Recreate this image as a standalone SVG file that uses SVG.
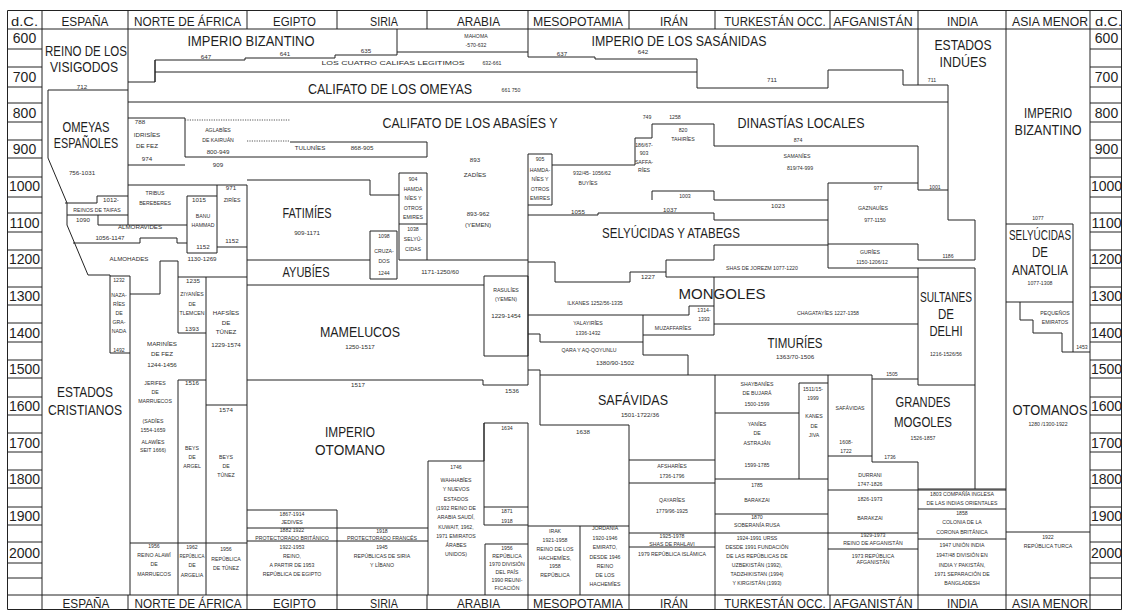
<svg xmlns="http://www.w3.org/2000/svg" width="1126" height="611" viewBox="0 0 1126 611">
<style>
text{font-family:"Liberation Sans",Arial,sans-serif;text-anchor:middle;fill:#1e1e1e}
.h{font-size:13.5px}
.y{font-size:14px}
.b{font-size:14px}
.s{font-size:6.2px;fill:#2e2e2e}
.t{font-size:5.2px;fill:#2e2e2e}
.ln{fill:none;stroke:#222;stroke-width:1}
.dt{fill:none;stroke:#444;stroke-width:0.9;stroke-dasharray:1.2 1.2}
</style>
<rect width="1126" height="611" fill="#fff"/>
<g id="connectors">
<path class="ln" d="M7.5 10.5H1121.5V609.5H7.5Z"/>
<path class="ln" d="M7 29H1122M7 595H1122"/>
<path class="ln" d="M42 10V29M128 10V29M247 10V29M337 10V29M427 10V29M528 10V29M629 10V29M715 10V29M830 10V29M918 10V29M1006 10V29M1090 10V29"/>
<path class="ln" d="M42 595V610M128 595V610M247 595V610M337 595V610M427 595V610M528 595V610M629 595V610M715 595V610M830 595V610M918 595V610M1006 595V610M1090 595V610"/>
<path class="ln" d="M42 29V595M1090 29V595M1006 29V595"/>
<path class="ln" d="M7 49H42M7 67H42M7 87H42M7 103H42M7 122H42M7 140H42M7 158H42M7 177H42M7 197H42M7 213H42M7 232H42M7 250H42M7 268H42M7 287H42M7 305H42M7 323H42M7 342H42M7 360H42M7 378H42M7 397H42M7 415H42M7 433H42M7 452H42M7 470H42M7 488H42M7 507H42M7 525H42M7 542H42M7 563H42M7 578H42"/>
<path class="ln" d="M1090 49H1122M1090 67H1122M1090 87H1122M1090 103H1122M1090 122H1122M1090 140H1122M1090 158H1122M1090 177H1122M1090 197H1122M1090 213H1122M1090 232H1122M1090 250H1122M1090 268H1122M1090 287H1122M1090 305H1122M1090 323H1122M1090 342H1122M1090 360H1122M1090 378H1122M1090 397H1122M1090 415H1122M1090 433H1122M1090 452H1122M1090 470H1122M1090 488H1122M1090 507H1122M1090 525H1122M1090 542H1122M1090 563H1122M1090 578H1122"/>
<path class="ln" d="M128 29V225M48 90H128M48 90V158L67 203V225L88 275H110V353H130M130 276V595M110 276H130"/>
<path class="ln" d="M65 203H97V196H128M67 215H128M98 215V225M98 225H187M73 243H140V238H177V243H187"/>
<path class="ln" d="M128 185H247M187 196H217M187 196V253H217M217 185V253M217 247H247"/>
<path class="ln" d="M130 294H160V261H178V277H247M178 277V333H206M206 277V595M178 380H206M178 380V595M206 405H247M130 543H247M247 185V595"/>
<path class="ln" d="M128 118H185V157M185 165H128M185 157H427V142H290"/>
<path class="dt" d="M185 120H290M247 141H290"/>
<path class="ln" d="M128 82H155V60H245V58H335V55H397M397 55V29M397 52H528M528 29V57M155 60V82M155 72H697"/>
<path class="ln" d="M128 102H948"/>
<path class="ln" d="M247 180H370V195H399M399 173H427V260H399ZM399 224H427M370 231H397V279H370Z"/>
<path class="ln" d="M247 260H370M427 260H528M247 285H484M484 276H528V356H484ZM247 380H483V385H528M528 154V385"/>
<path class="ln" d="M528 370H540V425H629M528 334H540V342H643"/>
<path class="ln" d="M528 57H595V59H697V88H828V70H903V85H948V190M918 29V85"/>
<path class="ln" d="M528 154H552V205H528M552 165H635V138H652V124H714V146H918V190H948"/>
<path class="ln" d="M652 200V191H714V200M714 200H828M828 183H918M828 183V268"/>
<path class="ln" d="M528 215H598V213H714V220H828"/>
<path class="ln" d="M948 190V220H975V260H918V244H828M828 268H975M975 268V489M918 268V385H975"/>
<path class="ln" d="M714 245V260H666V277H918M714 245H828"/>
<path class="ln" d="M528 262H555V282H630V272H666"/>
<path class="ln" d="M528 315H689V306H714M714 324H918M714 277V335M643 315V355H688V375M643 335H714"/>
<path class="ln" d="M540 375H872V379H918M872 379V462H918V489H1006"/>
<path class="ln" d="M828 375V595M828 456H872M828 490H1006M629 533H918M918 539H1006M918 509H1006M828 549H918M918 489V595"/>
<path class="ln" d="M715 375V595M715 413H799M799 383H828M799 383V479M715 479H828M715 514H828"/>
<path class="ln" d="M629 425V595M629 460H715M629 483H715M629 547H715"/>
<path class="ln" d="M528 526H629M528 423V595M580 526V595"/>
<path class="ln" d="M428 461V595M428 461H484V423H528M484 423V525M484 507H528M484 525H528M485 544H528M485 544V595"/>
<path class="ln" d="M247 510H337V595M247 528H428M247 541H428"/>
<path class="ln" d="M1006 224H1073V352M1006 302H1073M1020 302V320H1033V333H1062V352H1090M1006 532H1090"/>
</g>

<g id="header">
<text class="h" x="24.5" y="25.5" textLength="27" lengthAdjust="spacingAndGlyphs">d.C.</text>
<text class="h" x="85" y="25.5" textLength="47" lengthAdjust="spacingAndGlyphs">ESPAÑA</text>
<text class="h" x="187.5" y="25.5" textLength="107" lengthAdjust="spacingAndGlyphs">NORTE DE ÁFRICA</text>
<text class="h" x="294.5" y="25.5" textLength="43" lengthAdjust="spacingAndGlyphs">EGIPTO</text>
<text class="h" x="384" y="25.5" textLength="28" lengthAdjust="spacingAndGlyphs">SIRIA</text>
<text class="h" x="478.5" y="25.5" textLength="43" lengthAdjust="spacingAndGlyphs">ARABIA</text>
<text class="h" x="578" y="25.5" textLength="90" lengthAdjust="spacingAndGlyphs">MESOPOTAMIA</text>
<text class="h" x="674" y="25.5" textLength="28" lengthAdjust="spacingAndGlyphs">IRÁN</text>
<text class="h" transform="translate(775 25.5) scale(0.85 1)" x="0" y="0">TURKESTÁN OCC.</text>
<text class="h" transform="translate(873 25.5) scale(0.92 1)" x="0" y="0">AFGANISTÁN</text>
<text class="h" x="962.5" y="25.5" textLength="31" lengthAdjust="spacingAndGlyphs">INDIA</text>
<text class="h" x="1050" y="25.5" textLength="76" lengthAdjust="spacingAndGlyphs">ASIA MENOR</text>
<text class="h" x="1108.5" y="25.5" textLength="27" lengthAdjust="spacingAndGlyphs">d.C.</text>
</g>
<g id="footer">
<text class="h" x="86" y="607.5" textLength="47" lengthAdjust="spacingAndGlyphs">ESPAÑA</text>
<text class="h" x="188" y="607.5" textLength="107" lengthAdjust="spacingAndGlyphs">NORTE DE ÁFRICA</text>
<text class="h" x="294.5" y="607.5" textLength="43" lengthAdjust="spacingAndGlyphs">EGIPTO</text>
<text class="h" x="384" y="607.5" textLength="28" lengthAdjust="spacingAndGlyphs">SIRIA</text>
<text class="h" x="478.5" y="607.5" textLength="43" lengthAdjust="spacingAndGlyphs">ARABIA</text>
<text class="h" x="578" y="607.5" textLength="90" lengthAdjust="spacingAndGlyphs">MESOPOTAMIA</text>
<text class="h" x="674" y="607.5" textLength="28" lengthAdjust="spacingAndGlyphs">IRÁN</text>
<text class="h" transform="translate(775 607.5) scale(0.85 1)" x="0" y="0">TURKESTÁN OCC.</text>
<text class="h" transform="translate(873 607.5) scale(0.92 1)" x="0" y="0">AFGANISTÁN</text>
<text class="h" x="962.5" y="607.5" textLength="31" lengthAdjust="spacingAndGlyphs">INDIA</text>
<text class="h" x="1050" y="607.5" textLength="76" lengthAdjust="spacingAndGlyphs">ASIA MENOR</text>
</g>
<g id="years-left">
<text class="y" x="24.5" y="43">600</text><text class="y" x="24.5" y="82">700</text><text class="y" x="24.5" y="118">800</text><text class="y" x="24.5" y="154">900</text><text class="y" x="24.5" y="191">1000</text><text class="y" x="24.5" y="228">1100</text><text class="y" x="24.5" y="264">1200</text><text class="y" x="24.5" y="301">1300</text><text class="y" x="24.5" y="338">1400</text><text class="y" x="24.5" y="374">1500</text><text class="y" x="24.5" y="411">1600</text><text class="y" x="24.5" y="448">1700</text><text class="y" x="24.5" y="484">1800</text><text class="y" x="24.5" y="521">1900</text><text class="y" x="24.5" y="558">2000</text>
</g>
<g id="years-right">
<text class="y" x="1106.5" y="43">600</text><text class="y" x="1106.5" y="82">700</text><text class="y" x="1106.5" y="118">800</text><text class="y" x="1106.5" y="154">900</text><text class="y" x="1106.5" y="191">1000</text><text class="y" x="1106.5" y="228">1100</text><text class="y" x="1106.5" y="264">1200</text><text class="y" x="1106.5" y="301">1300</text><text class="y" x="1106.5" y="338">1400</text><text class="y" x="1106.5" y="374">1500</text><text class="y" x="1106.5" y="411">1600</text><text class="y" x="1106.5" y="448">1700</text><text class="y" x="1106.5" y="484">1800</text><text class="y" x="1106.5" y="521">1900</text><text class="y" x="1106.5" y="558">2000</text>
</g>

<g id="espana">
<text class="b" x="86" y="56" textLength="82" lengthAdjust="spacingAndGlyphs">REINO DE LOS</text>
<text class="b" x="84" y="72" textLength="68" lengthAdjust="spacingAndGlyphs">VISIGODOS</text>
<text class="s" x="82" y="88.5">712</text>
<text class="b" transform="translate(86 132) scale(0.8 1)" x="0" y="0">OMEYAS</text>
<text class="b" transform="translate(86 148) scale(0.77 1)" x="0" y="0">ESPAÑOLES</text>
<text class="s" x="82" y="175">756-1031</text>
<text class="s" x="111" y="202">1012-</text>
<text class="t" x="97" y="212">REINOS DE TAIFAS</text>
<text class="s" x="83" y="222">1090</text>
<text class="s" x="140" y="229">ALMORAVIDES</text>
<text class="s" x="110" y="240">1056-1147</text>
<text class="s" x="129" y="261">ALMOHADES</text>
<text class="s" x="202" y="261">1130-1269</text>
<text class="t" x="119" y="282">1232</text><text class="t" x="119" y="297">NAZA-</text><text class="t" x="119" y="306">RÍES</text><text class="t" x="119" y="315">DE</text><text class="t" x="119" y="324">GRA-</text><text class="t" x="119" y="333">NADA</text><text class="t" x="119" y="352">1492</text>
<text class="b" x="85" y="397" textLength="56" lengthAdjust="spacingAndGlyphs">ESTADOS</text>
<text class="b" x="85" y="415" textLength="74" lengthAdjust="spacingAndGlyphs">CRISTIANOS</text>
</g>
<g id="norte-africa">
<text class="s" x="140" y="124">788</text><text class="s" x="147" y="137">IDRISÍES</text><text class="s" x="147" y="148">DE FEZ</text><text class="s" x="147" y="161">974</text>
<text class="t" x="218" y="132">AGLABÍES</text><text class="t" x="218" y="142">DE KAIRUÁN</text><text class="s" x="218" y="154">800-949</text><text class="s" x="218" y="167">909</text>
<text class="t" x="155" y="195">TRIBUS</text><text class="t" x="155" y="205">BEREBERES</text>
<text class="s" x="199" y="202">1015</text><text class="t" x="203" y="218">BANU</text><text class="t" x="203" y="227">HAMMAD</text><text class="s" x="203" y="249">1152</text>
<text class="s" x="231" y="190">971</text><text class="t" x="232" y="202">ZIRÍES</text><text class="s" x="232" y="243">1152</text>
<text class="s" x="193" y="283">1235</text><text class="t" x="192" y="296">ZIYANÍES</text><text class="t" x="192" y="306">DE</text><text class="t" x="192" y="315">TLEMCEN</text><text class="s" x="192" y="331">1393</text>
<text class="s" x="226" y="315">HAFSÍES</text><text class="s" x="226" y="325">DE</text><text class="s" x="226" y="334">TÚNEZ</text><text class="s" x="226" y="347">1229-1574</text>
<text class="s" x="162" y="346">MARINÍES</text><text class="s" x="162" y="356">DE FEZ</text><text class="s" x="162" y="367">1244-1456</text>
<text class="t" x="155" y="385">JERIFES</text><text class="t" x="155" y="394">DE</text><text class="t" x="155" y="403">MARRUECOS</text>
<text class="t" x="153" y="423">(SADÍES</text><text class="t" x="153" y="432">1554-1659</text><text class="t" x="153" y="444">ALAWÍES</text><text class="t" x="153" y="452">SEIT 1666)</text>
<text class="s" x="192" y="385">1516</text><text class="t" x="192" y="450">BEYS</text><text class="t" x="192" y="459">DE</text><text class="t" x="192" y="468">ARGEL</text>
<text class="s" x="226" y="412">1574</text><text class="t" x="226" y="459">BEYS</text><text class="t" x="226" y="468">DE</text><text class="t" x="226" y="477">TÚNEZ</text>
<text class="t" x="154" y="548">1956</text><text class="t" x="154" y="557">REINO ALAWÍ</text><text class="t" x="154" y="566">DE</text><text class="t" x="154" y="576">MARRUECOS</text>
<text class="t" x="192" y="549">1962</text><text class="t" transform="translate(192 558) scale(0.85 1)" x="0" y="0">REPÚBLICA</text><text class="t" x="192" y="567">DE</text><text class="t" x="192" y="577">ARGELIA</text>
<text class="t" x="226" y="551">1956</text><text class="t" x="226" y="561">REPÚBLICA</text><text class="t" x="226" y="570">DE TÚNEZ</text>
</g>
<g id="califatos">
<text class="b" x="251" y="46" textLength="127" lengthAdjust="spacingAndGlyphs">IMPERIO BIZANTINO</text>
<text class="s" x="206" y="59">647</text><text class="s" x="285" y="56">641</text><text class="s" x="366" y="53">635</text>
<text class="t" x="476" y="38">MAHOMA</text><text class="t" x="476" y="47">-570-632</text>
<text class="t" x="393" y="65" textLength="143" lengthAdjust="spacingAndGlyphs">LOS CUATRO CALIFAS LEGITIMOS</text><text class="t" x="492" y="65">632-661</text>
<text class="b" x="390" y="94" textLength="164" lengthAdjust="spacingAndGlyphs">CALIFATO DE LOS OMEYAS</text><text class="t" x="511" y="92">661 750</text>
<text class="b" x="470" y="128" textLength="175" lengthAdjust="spacingAndGlyphs">CALIFATO DE LOS ABASÍES Y</text>
<text class="s" x="310" y="150">TULUNÍES</text><text class="s" x="362" y="150">868-905</text>
<text class="s" x="475" y="162">893</text><text class="s" x="475" y="177">ZADÍES</text>
<text class="s" x="478" y="216">893-962</text><text class="s" x="478" y="227">(YEMEN)</text>
</g>
<g id="egipto-siria">
<text class="b" x="307" y="218" textLength="49" lengthAdjust="spacingAndGlyphs">FATIMÍES</text><text class="s" x="307" y="235">909-1171</text>
<text class="t" x="413" y="181">904</text><text class="t" x="413" y="191">HAMDA</text><text class="t" x="413" y="200">NÍES Y</text><text class="t" x="413" y="210">OTROS</text><text class="t" x="413" y="219">EMIRES</text>
<text class="t" x="413" y="231">1038</text><text class="t" x="413" y="241">SELYÚ-</text><text class="t" x="413" y="251">CIDAS</text>
<text class="t" x="384" y="238">1098</text><text class="t" x="384" y="253">CRUZA-</text><text class="t" x="384" y="263">DOS</text><text class="t" x="384" y="275">1244</text>
<text class="b" x="306" y="277" textLength="47" lengthAdjust="spacingAndGlyphs">AYUBÍES</text><text class="s" x="440" y="274">1171-1250/60</text>
<text class="t" x="506" y="292">RASULÍES</text><text class="t" x="506" y="301">(YEMEN)</text><text class="s" x="506" y="318">1229-1454</text>
<text class="b" x="360" y="337" textLength="80" lengthAdjust="spacingAndGlyphs">MAMELUCOS</text><text class="s" x="360" y="349">1250-1517</text>
<text class="s" x="358" y="387">1517</text><text class="s" x="512" y="393">1536</text>
<text class="b" x="350" y="437" textLength="50" lengthAdjust="spacingAndGlyphs">IMPERIO</text>
<text class="b" x="350" y="455" textLength="70" lengthAdjust="spacingAndGlyphs">OTOMANO</text>
<text class="t" x="292" y="516">1867-1914</text><text class="t" x="292" y="524">JEDIVES</text><text class="t" x="292" y="532">1882 1922</text><text class="t" x="292" y="539.5">PROTECTORADO BRITÁNICO</text>
<text class="t" x="292" y="549">1922-1953</text><text class="t" x="292" y="558">REINO,</text><text class="t" x="292" y="567">A PARTIR DE 1953</text><text class="t" x="292" y="576">REPÚBLICA DE EGIPTO</text>
<text class="t" x="382" y="533">1918</text><text class="t" x="382" y="539.5">PROTECTORADO FRANCÉS</text><text class="t" x="382" y="549">1945</text><text class="t" x="382" y="558">REPÚBLICAS DE SIRIA</text><text class="t" x="382" y="567">Y LÍBANO</text>
</g>
<g id="arabia">
<text class="t" x="507" y="430">1634</text>
<text class="t" x="456" y="469">1746</text><text class="t" x="456" y="482">WAHHABÍES</text><text class="t" x="456" y="491">Y NUEVOS</text><text class="t" x="456" y="501">ESTADOS</text><text class="t" x="456" y="510">(1932 REINO DE</text><text class="t" x="456" y="519">ARABIA SAUDÍ,</text><text class="t" x="456" y="529">KUWAIT, 1962,</text><text class="t" x="456" y="538">1971 EMIRATOS</text><text class="t" x="456" y="547">ÁRABES</text><text class="t" x="456" y="556">UNIDOS)</text>
<text class="t" x="507" y="513">1871</text><text class="t" x="507" y="523">1918</text>
<text class="t" x="507" y="550">1956</text><text class="t" x="507" y="558">REPÚBLICA</text><text class="t" x="507" y="566">1970 DIVISIÓN</text><text class="t" x="507" y="574">DEL PAÍS</text><text class="t" x="507" y="582">1990 REUNI-</text><text class="t" x="507" y="590">FICACIÓN</text>
</g>
<g id="mesopotamia-iran">
<text class="s" x="562" y="56">637</text><text class="s" x="643" y="54">642</text>
<text class="b" x="679" y="46" textLength="175" lengthAdjust="spacingAndGlyphs">IMPERIO DE LOS SASÁNIDAS</text>
<text class="s" x="772" y="82">711</text>
<text class="t" x="540" y="161">905</text><text class="t" x="540" y="172">HAMDA-</text><text class="t" x="540" y="181">NÍES Y</text><text class="t" x="540" y="191">OTROS</text><text class="t" x="540" y="200">EMIRES</text>
<text class="t" x="592" y="175">932/45- 1056/62</text><text class="t" x="588" y="185">BUYÍES</text>
<text class="t" x="647" y="119">749</text><text class="t" x="675" y="119">1258</text>
<text class="t" x="683" y="132">820</text><text class="t" x="683" y="141">TAHIRÍES</text>
<text class="t" x="644" y="147">186/67-</text><text class="t" x="644" y="155">903</text><text class="t" x="644" y="164">SAFFA-</text><text class="t" x="644" y="172">RÍES</text>
<text class="t" x="685" y="198">1003</text>
<text class="s" x="578" y="214">1055</text><text class="s" x="670" y="212">1037</text>
<text class="b" x="671" y="238" textLength="138" lengthAdjust="spacingAndGlyphs">SELYÚCIDAS Y ATABEGS</text>
<text class="s" x="648" y="279">1227</text>
<text class="b" x="722" y="299" textLength="87" lengthAdjust="spacingAndGlyphs">MONGOLES</text>
<text class="t" x="595" y="305">ILKANES  1252/56-1335</text>
<text class="t" x="704" y="312">1314-</text><text class="t" x="704" y="321">1393</text><text class="t" x="673" y="330">MUZAFFARÍES</text>
<text class="t" x="588" y="325">YALAYIRÍES</text><text class="t" x="588" y="335">1336-1432</text>
<text class="t" x="589" y="352">QARA Y AQ-QOYUNLU</text><text class="s" x="615" y="365">1380/90-1502</text>
<text class="b" x="633" y="405" textLength="70" lengthAdjust="spacingAndGlyphs">SAFÁVIDAS</text><text class="s" x="640" y="417">1501-1722/36</text>
<text class="s" x="583" y="434">1638</text>
<text class="t" x="672" y="468">AFSHARÍES</text><text class="t" x="672" y="478">1736-1796</text>
<text class="t" x="672" y="502">QAYARÍES</text><text class="t" x="672" y="513">1779/96-1925</text>
<text class="t" x="672" y="538">1925-1978</text><text class="t" x="672" y="545.5">SHAS DE PAHLAVI</text><text class="t" x="672" y="556">1979 REPÚBLICA ISLÁMICA</text>
<text class="t" x="555" y="533">IRAK</text><text class="t" x="555" y="542">1921-1958</text><text class="t" x="555" y="551">REINO DE LOS</text><text class="t" x="555" y="560">HACHEMÍES,</text><text class="t" x="555" y="568">1958</text><text class="t" x="555" y="577">REPÚBLICA</text>
<text class="t" x="605" y="530">JORDANIA</text><text class="t" x="605" y="540">1920-1946</text><text class="t" x="605" y="549">EMIRATO,</text><text class="t" x="605" y="559">DESDE 1946</text><text class="t" x="605" y="568">REINO</text><text class="t" x="605" y="577">DE LOS</text><text class="t" x="605" y="586">HACHEMÍES</text>
</g>
<g id="turkestan">
<text class="b" x="801" y="128" textLength="127" lengthAdjust="spacingAndGlyphs">DINASTÍAS LOCALES</text>
<text class="t" x="798" y="142">874</text><text class="t" x="797" y="158">SAMANÍES</text><text class="t" x="800" y="170">819/74-999</text>
<text class="s" x="778" y="208">1023</text>
<text class="t" x="762" y="270">SHAS DE JOREZM 1077-1220</text>
<text class="t" x="828" y="315">CHAGATAYÍES  1227-1358</text>
<text class="b" x="795" y="348" textLength="55" lengthAdjust="spacingAndGlyphs">TIMURÍES</text><text class="s" x="795" y="359">1363/70-1506</text>
<text class="t" x="757" y="386">SHAYBANÍES</text><text class="t" x="757" y="395">DE BUJARÁ</text><text class="t" x="757" y="406">1500-1599</text>
<text class="t" x="813" y="391">1511/15-</text><text class="t" x="813" y="400">1999</text><text class="t" x="814" y="418">KANES</text><text class="t" x="814" y="428">DE</text><text class="t" x="814" y="437">JIVA</text>
<text class="t" x="757" y="426">YANÍES</text><text class="t" x="757" y="435">DE</text><text class="t" x="757" y="445">ASTRAJÁN</text><text class="t" x="757" y="467">1599-1785</text>
<text class="t" x="757" y="487">1785</text><text class="t" x="757" y="502">BARAKZAI</text>
<text class="t" x="757" y="519">1870</text><text class="t" x="757" y="527">SOBERANÍA RUSA</text>
<text class="t" x="757" y="540">1924-1991 URSS</text><text class="t" x="757" y="549">DESDE 1991 FUNDACIÓN</text><text class="t" x="757" y="558">DE LAS REPÚBLICAS DE</text><text class="t" x="757" y="567">UZBEKISTÁN (1992),</text><text class="t" x="757" y="576">TADZHIKISTAN (1994)</text><text class="t" x="757" y="585">Y KIRGISTÁN (1993)</text>
</g>
<g id="afganistan">
<text class="t" x="878" y="190">977</text><text class="t" x="873" y="210">GAZNAUÍES</text><text class="t" x="875" y="222">977-1150</text>
<text class="t" x="870" y="254">GURÍES</text><text class="t" x="872" y="264">1150-1206/12</text>
<text class="t" x="892" y="376">1505</text>
<text class="t" x="850" y="410">SAFÁVIDAS</text><text class="t" x="846" y="444">1608-</text><text class="t" x="846" y="453">1722</text>
<text class="t" x="870" y="477">DURRANI</text><text class="t" x="870" y="486">1747-1826</text>
<text class="t" x="870" y="501">1826-1973</text><text class="t" x="870" y="520">BARAKZAI</text>
<text class="t" x="873" y="537">1929-1973</text><text class="t" x="873" y="545">REINO DE AFGANISTÁN</text>
<text class="t" x="873" y="558">1973 REPÚBLICA</text><text class="t" x="873" y="564">AFGANISTÁN</text>
</g>
<g id="india">
<text class="b" x="963" y="50" textLength="57" lengthAdjust="spacingAndGlyphs">ESTADOS</text>
<text class="b" x="963" y="67" textLength="47" lengthAdjust="spacingAndGlyphs">INDÚES</text>
<text class="t" x="932" y="82">711</text><text class="t" x="935" y="189">1001</text><text class="t" x="948" y="258">1186</text>
<text class="b" x="946" y="302" textLength="52" lengthAdjust="spacingAndGlyphs">SULTANES</text>
<text class="b" x="946" y="319" textLength="16" lengthAdjust="spacingAndGlyphs">DE</text>
<text class="b" x="946" y="336" textLength="33" lengthAdjust="spacingAndGlyphs">DELHI</text>
<text class="t" x="946" y="356">1216-1526/56</text>
<text class="b" x="923" y="407" textLength="55" lengthAdjust="spacingAndGlyphs">GRANDES</text>
<text class="b" x="923" y="427" textLength="58" lengthAdjust="spacingAndGlyphs">MOGOLES</text>
<text class="t" x="923" y="440">1526-1857</text><text class="t" x="890" y="459">1736</text>
<text class="t" x="962" y="496">1803 COMPAÑÍA INGLESA</text><text class="t" x="962" y="505">DE LAS INDIAS ORIENTALES</text>
<text class="t" x="962" y="515">1858</text><text class="t" x="962" y="524">COLONIA DE LA</text><text class="t" x="962" y="534">CORONA BRITÁNICA</text>
<text class="t" x="962" y="547">1947 UNIÓN INDIA</text><text class="t" x="962" y="557">1947/48 DIVISIÓN EN</text><text class="t" x="962" y="567">INDIA Y PAKISTÁN,</text><text class="t" x="962" y="576">1971 SEPARACIÓN DE</text><text class="t" x="962" y="585">BANGLADESH</text>
</g>
<g id="asia-menor">
<text class="b" x="1048" y="118" textLength="48" lengthAdjust="spacingAndGlyphs">IMPERIO</text>
<text class="b" x="1048" y="135" textLength="67" lengthAdjust="spacingAndGlyphs">BIZANTINO</text>
<text class="t" x="1038" y="220">1077</text>
<text class="b" x="1040" y="240" textLength="62" lengthAdjust="spacingAndGlyphs">SELYÚCIDAS</text>
<text class="b" x="1040" y="257" textLength="16" lengthAdjust="spacingAndGlyphs">DE</text>
<text class="b" x="1040" y="275" textLength="56" lengthAdjust="spacingAndGlyphs">ANATOLIA</text>
<text class="t" x="1040" y="285">1077-1308</text>
<text class="t" x="1055" y="315">PEQUEÑOS</text><text class="t" x="1055" y="324">EMIRATOS</text>
<text class="t" x="1082" y="349">1453</text>
<text class="b" x="1050" y="415" textLength="75" lengthAdjust="spacingAndGlyphs">OTOMANOS</text>
<text class="t" x="1048" y="426">1280 /1300-1922</text>
<text class="t" x="1048" y="539">1922</text><text class="t" x="1048" y="548">REPÚBLICA TURCA</text>
</g>
</svg>
